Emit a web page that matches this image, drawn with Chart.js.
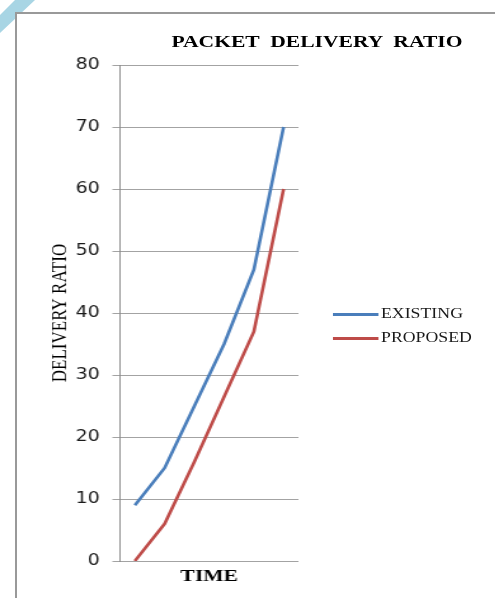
<!DOCTYPE html>
<html lang="en">
<head>
<meta charset="utf-8">
<title>Packet Delivery Ratio</title>
<script src="https://cdn.jsdelivr.net/npm/chart.js@4.4.1/dist/chart.umd.min.js"></script>
<style>
  body { margin: 0; overflow: hidden; background: #fff; }
  #decor {
    position: absolute; left: 0; top: 0; width: 40px; height: 40px;
    background: #a8d5e4;
    clip-path: polygon(15px 0, 35px 0, 0 33px, 0 15px);
  }
  #frame {
    position: absolute; left: 15px; top: 12px; width: 600px; height: 700px;
    border: 2px solid #999; background: #fff;
  }
  /* the original picture is stretched sideways, so the whole chart is too */
  #stretch {
    position: absolute; left: 0; top: 0; width: 390px; height: 598px;
    transform: scaleX(1.27); transform-origin: 0 0;
  }
  #title {
    position: absolute; left: 249.6px; top: 42px; transform: translate(-50%, -50%);
    font: bold 17px "Liberation Serif", serif; white-space: pre; color: #000;
  }
  #legend {
    position: absolute; left: 262px; top: 302px;
    font: 14px "Liberation Serif", serif; color: #1a1a1a;
  }
  .item { display: flex; align-items: center; height: 24px; }
  .swatch { width: 36px; height: 3px; margin-right: 2px; }
</style>
</head>
<body>
<div id="decor"></div>
<div id="frame"></div>
<div id="stretch">
  <canvas id="myChart"></canvas>
  <div id="title">PACKET  DELIVERY  RATIO</div>
  <div id="legend"></div>
</div>

<script>
  var timeLabels = ['1', '2', '3', '4', '5', '6'];
  var seriesNames = ['EXISTING', 'PROPOSED'];
  var existing = [9, 15, 25, 35, 47, 70];
  var proposed = [0, 6, 16, 26.5, 37, 60];
  var seriesColors = ['#4a7ebb', '#be4b48'];

  var ctx = document.getElementById('myChart');

  var chart = new Chart(ctx, {
    type: 'line',
    data: {
      labels: timeLabels,
      datasets: [{
        label: seriesNames[0],
        data: existing,
        borderColor: seriesColors[0],
        backgroundColor: seriesColors[0],
        borderWidth: 2.6,
        pointRadius: 0,
        tension: 0
      }, {
        label: seriesNames[1],
        data: proposed,
        borderColor: seriesColors[1],
        backgroundColor: seriesColors[1],
        borderWidth: 2.6,
        pointRadius: 0,
        tension: 0
      }]
    },
    options: {
      responsive: true,
      maintainAspectRatio: false,
      animation: false,
      layout: { padding: { left: 10, right: 155, top: 65, bottom: 7 } },
      plugins: {
        legend: { display: false },
        title: { display: false },
        tooltip: { enabled: false }
      },
      scales: {
        x: {
          offset: true,
          grid: { display: false },
          border: { display: false },
          ticks: { display: false },
          title: {
            display: true,
            text: 'TIME',
            color: '#000',
            font: { family: 'Liberation Serif', size: 17, weight: 'bold' },
            padding: { top: 0, bottom: 4 }
          },
          afterFit: function (scale) { scale.height = 30; }
        },
        y: {
          min: 0,
          max: 80,
          ticks: {
            stepSize: 10,
            padding: 10,
            color: '#1a1a1a',
            font: { family: 'DejaVu Sans', size: 15 }
          },
          grid: { color: '#a3a3a3', lineWidth: 1, tickLength: 6 },
          border: { display: true, color: '#8c8c8c', width: 1 },
          title: {
            display: true,
            text: 'DELIVERY RATIO',
            color: '#000',
            font: { family: 'Liberation Serif', size: 17 },
            padding: { top: 27, bottom: 0 }
          },
          afterFit: function (scale) { scale.width = 84.5; }
        }
      }
    }
  });

  // legend drawn beside the plot, like the original
  var legendDiv = document.getElementById('legend');
  chart.data.datasets.forEach(function (ds) {
    legendDiv.innerHTML += '<div class="item"><div class="swatch" style="background:' +
      ds.borderColor + '"></div>' + ds.label + '</div>';
  });
</script>
</body>
</html>
